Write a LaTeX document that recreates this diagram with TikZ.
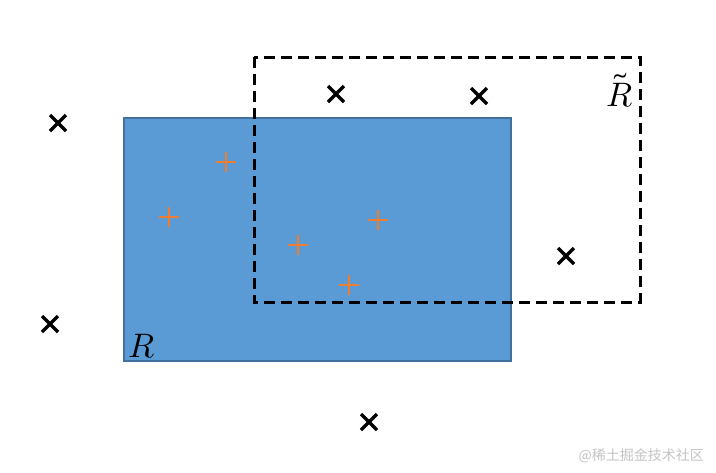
\documentclass[tikz,border=0pt]{standalone}
\usepackage{unicode-math}
\usetikzlibrary{calc}
\newfontfamily\cjk{Noto Sans CJK SC}
\definecolor{rblue}{HTML}{5B9BD5}
\definecolor{rborder}{HTML}{41719C}
\definecolor{porange}{HTML}{ED7D31}
\definecolor{wmgray}{HTML}{C4C4C4}
\begin{document}
\begin{tikzpicture}[x=1pt,y=-1pt,
  lbl/.style={inner sep=0pt,font=\fontsize{34}{40}\selectfont}]
\useasboundingbox (0,0) rectangle (716,472);
\fill[white] (0,0) rectangle (716,472);
% blue region R
\draw[fill=rblue,draw=rborder,line width=1.2pt] (124,118) rectangle (511,361);
% dashed region R tilde
\draw[black,line width=3pt,dash pattern=on 11pt off 6pt] (254,57) rectangle (640,302);
% black crosses
\foreach \n/\x/\y in {c1/58/123,c2/336/94,c3/479/96,c4/566/256,c5/50/324,c6/369/422}{
  \coordinate (\n) at (\x,\y);
  \draw[black,line width=3.2pt] ($(\n)+(-8,-8)$) -- ($(\n)+(8,8)$) ($(\n)+(-8,8)$) -- ($(\n)+(8,-8)$);
}
% orange pluses
\foreach \n/\x/\y in {p1/226/162,p2/169/217,p3/378/220,p4/298/245,p5/349/285}{
  \coordinate (\n) at (\x,\y);
  \draw[porange,line width=2.6pt] ($(\n)+(-10,0)$) -- ($(\n)+(10,0)$) ($(\n)+(0,-10)$) -- ($(\n)+(0,10)$);
}
\node[lbl,anchor=base west] (R) at (128,357) {$R$};
\node[lbl,anchor=base] (Rt) at (620,106) {$\tilde{R}$};
\node[anchor=east,inner sep=0pt,text=wmgray,font=\cjk\fontsize{14}{16}\selectfont] (wm) at (704,456) {@稀土掘金技术社区};
\end{tikzpicture}
\end{document}
